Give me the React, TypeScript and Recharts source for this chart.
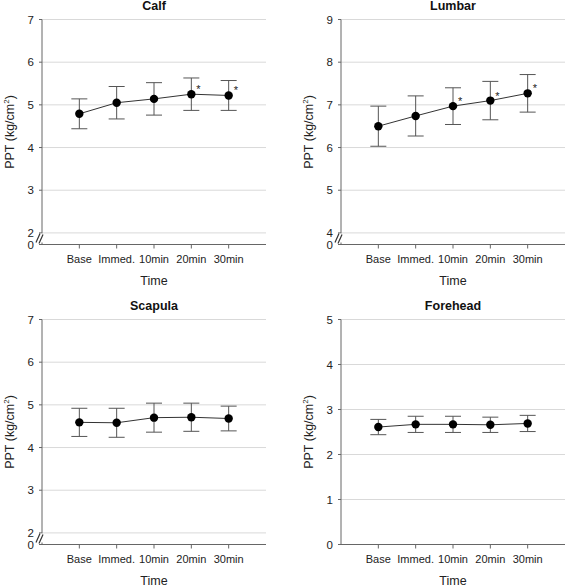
import React from "react";
import { LineChart, Line, XAxis, YAxis, CartesianGrid, ErrorBar, LabelList } from "recharts";

const categories = ["Base", "Immed.", "10min", "20min", "30min"];

const calfMean = [4.79, 5.05, 5.14, 5.25, 5.22];
const calfSd = [0.35, 0.38, 0.38, 0.38, 0.35];
const calfSig = [false, false, false, true, true];
const calfTicks = [2, 3, 4, 5, 6, 7];

const lumbarMean = [6.5, 6.74, 6.97, 7.1, 7.27];
const lumbarSd = [0.47, 0.47, 0.43, 0.45, 0.44];
const lumbarSig = [false, false, true, true, true];
const lumbarTicks = [4, 5, 6, 7, 8, 9];

const scapulaMean = [4.59, 4.58, 4.7, 4.71, 4.68];
const scapulaSd = [0.33, 0.34, 0.34, 0.33, 0.29];
const scapulaSig = [false, false, false, false, false];
const scapulaTicks = [2, 3, 4, 5, 6, 7];

const foreheadMean = [2.61, 2.67, 2.67, 2.66, 2.69];
const foreheadSd = [0.17, 0.18, 0.18, 0.17, 0.18];
const foreheadSig = [false, false, false, false, false];
const foreheadTicks = [0, 1, 2, 3, 4, 5];

const FONT = "'Liberation Sans', Arial, sans-serif";
const CHART_W = 268;
const Y_TICK_SIZE = 3;
const Y_TICK_MARGIN = 5;
// gap (in axis units) used for the broken segment between the lowest tick and zero
const BREAK_GAP = 0.272;

function YTick(props: any) {
    const { x, y, payload, breakVal } = props;
    const ax = x + Y_TICK_SIZE + Y_TICK_MARGIN;
    if (breakVal !== null && payload.value < breakVal + 0.01) {
        const cy = y - 6;
        return (
            <g>
                <line x1={ax} y1={cy - 5} x2={ax} y2={cy + 4} stroke="#fff" strokeWidth={3} />
                <line x1={ax - 6} y1={cy + 4} x2={ax - 2} y2={cy - 5} stroke="#333" strokeWidth={1.2} />
                <line x1={ax - 3} y1={cy + 5} x2={ax + 1} y2={cy - 4} stroke="#333" strokeWidth={1.2} />
                <text x={x} y={y} dy="0.355em" textAnchor="end" fontSize={11.5} fill="#222" fontFamily={FONT}>0</text>
            </g>
        );
    }
    return (
        <text x={x} y={y} dy="0.355em" textAnchor="end" fontSize={11.5} fill="#222" fontFamily={FONT}>
            {payload.value}
        </text>
    );
}

function YLabel(props: any) {
    const { viewBox } = props;
    const cx = viewBox.x + viewBox.width - 32;
    const cy = viewBox.y + viewBox.height / 2;
    return (
        <text
            x={cx}
            y={cy}
            transform={`rotate(-90 ${cx} ${cy})`}
            textAnchor="middle"
            dy="0.35em"
            fontSize={12.5}
            fill="#222"
            fontFamily={FONT}
        >
            PPT (kg/cm
            <tspan dy={-5} fontSize={8}>2</tspan>
            <tspan dy={5}>)</tspan>
        </text>
    );
}

function XLabel(props: any) {
    const { viewBox } = props;
    return (
        <text
            x={viewBox.x + viewBox.width / 2}
            y={viewBox.y + 40}
            textAnchor="middle"
            fontSize={12.5}
            fill="#222"
            fontFamily={FONT}
        >
            Time
        </text>
    );
}

function Star(props: any) {
    const { x, y, value } = props;
    if (!value) return null;
    return (
        <text x={x + 5} y={y - 1} fontSize={11} fill="#222" fontFamily={FONT}>*</text>
    );
}

interface PanelProps {
    title: string;
    mean: number[];
    sd: number[];
    sig: boolean[];
    ticks: number[];
    broken: boolean;
    left: number;
    top: number;
    height: number;
}

function Panel({ title, mean, sd, sig, ticks, broken, left, top, height }: PanelProps) {
    const data = mean.map((m, i) => ({ x: i + 1, mean: m, sd: sd[i], sig: sig[i] ? 1 : 0 }));
    const low = ticks[0];
    const breakVal = broken ? low - BREAK_GAP : null;
    const yMin = broken ? low - BREAK_GAP : low;
    const yTicks = broken ? [yMin, ...ticks] : ticks;

    return (
        <div style={{ position: "absolute", left, top, width: CHART_W, height }}>
            <div
                style={{
                    position: "absolute",
                    left: 42,
                    width: 224,
                    top: -1,
                    textAlign: "center",
                    fontWeight: "bold",
                    fontSize: 12.5,
                    lineHeight: "15px",
                    fontFamily: FONT,
                    color: "#111"
                }}
            >
                {title}
            </div>
            <LineChart
                width={CHART_W}
                height={height}
                data={data}
                margin={{ top: 19.5, right: 2, left: 12, bottom: height - 274.5 }}
            >
                <CartesianGrid vertical={false} stroke="#d9d9d9" />
                <XAxis
                    dataKey="x"
                    type="number"
                    domain={[0, 6]}
                    ticks={[1, 2, 3, 4, 5]}
                    tickFormatter={(v: number) => categories[v - 1]}
                    height={30}
                    stroke="#666"
                    tickSize={4}
                    tickMargin={7}
                    tick={{ fontSize: 11, fill: "#222", fontFamily: FONT }}
                    label={<XLabel />}
                />
                <YAxis
                    type="number"
                    domain={[yMin, ticks[ticks.length - 1]]}
                    ticks={yTicks}
                    interval={0}
                    width={30}
                    stroke="#666"
                    tickSize={Y_TICK_SIZE}
                    tickMargin={Y_TICK_MARGIN}
                    tick={<YTick breakVal={breakVal} />}
                    allowDataOverflow
                    label={<YLabel />}
                />
                <Line
                    dataKey="mean"
                    stroke="#333"
                    strokeWidth={1}
                    dot={{ r: 4.2, fill: "#000", stroke: "none" }}
                    activeDot={false}
                    isAnimationActive={false}
                >
                    <ErrorBar dataKey="sd" width={8} stroke="#555" strokeWidth={1} direction="y" />
                    <LabelList dataKey="sig" content={<Star />} />
                </Line>
            </LineChart>
        </div>
    );
}

export default function App() {
    return (
        <div
            style={{
                position: "absolute",
                left: 0,
                top: 0,
                width: 567,
                height: 586,
                background: "#fff",
                fontFamily: FONT,
                overflow: "hidden"
            }}
        >
            <Panel title="Calf" mean={calfMean} sd={calfSd} sig={calfSig} ticks={calfTicks} broken left={0} top={0} height={294} />
            <Panel title="Lumbar" mean={lumbarMean} sd={lumbarSd} sig={lumbarSig} ticks={lumbarTicks} broken left={299} top={0} height={294} />
            <Panel title="Scapula" mean={scapulaMean} sd={scapulaSd} sig={scapulaSig} ticks={scapulaTicks} broken left={0} top={299.5} height={286.5} />
            <Panel title="Forehead" mean={foreheadMean} sd={foreheadSd} sig={foreheadSig} ticks={foreheadTicks} broken={false} left={299} top={299.5} height={286.5} />
        </div>
    );
}
